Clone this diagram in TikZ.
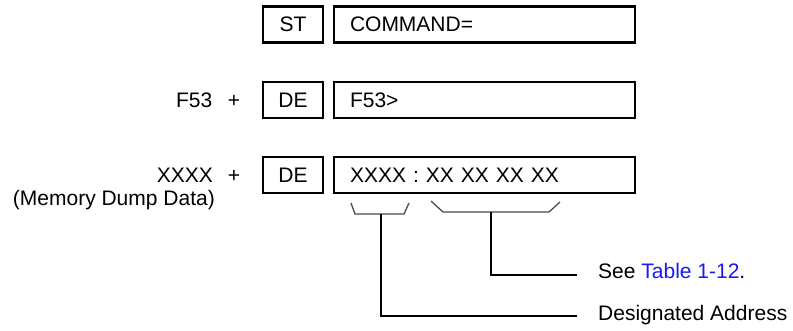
\documentclass[tikz,border=0pt]{standalone}
\usepackage{fontspec}
\setmainfont{Liberation Sans}
\definecolor{linkblue}{RGB}{25,25,235}
\begin{document}
\begin{tikzpicture}[x=1pt,y=-1pt,
  txt/.style={inner sep=0pt,font=\fontsize{21}{24}\selectfont},
  box/.style={draw,line width=2.6pt,minimum height=36pt,inner sep=0pt,font=\fontsize{21}{24}\selectfont},
  smallbox/.style={box,minimum width=60pt},
  widebox/.style={box,text width=269pt,align=left,inner xsep=16pt},
  brace/.style={line width=1.3pt,draw=black!70},
  lead/.style={line width=2pt}]
\useasboundingbox (0,0) rectangle (793,331);

% row 1
\node[smallbox] (st) at (293,24.5) {ST};
\node[widebox] (cmd) at (484.5,24.5) {COMMAND=};
% row 2
\node[txt,anchor=base east] (f53) at (212.5,107.5) {F53};
\node[txt,anchor=base] (plusa) at (234,107.5) {+};
\node[smallbox] (dea) at (293,100) {DE};
\node[widebox] (f53box) at (484.5,100) {F53>};
% row 3
\node[txt,anchor=base east] (xxxx) at (213,182.5) {XXXX};
\node[txt,anchor=base] (plusb) at (234,182.5) {+};
\node[txt,anchor=base east] (mem) at (215,206) {(Memory Dump Data)};
\node[smallbox] (deb) at (293,175) {DE};
\node[widebox] (dump) at (484.5,175) {XXXX : XX XX XX XX};

% braces
\coordinate (ma) at (381,214);
\coordinate (mb) at (491,212);
\draw[brace] (351,203) -- (355,214) -- (404,214) -- (409,203);
\draw[brace] (431,201) -- (443,212) -- (549,212) -- (560,202);

% labels
\node[txt,anchor=base west] (see) at (598,279) {See \textcolor{linkblue}{Table 1-12}.};
\node[txt,anchor=base west] (desig) at (598,320) {Designated Address};
\coordinate (seeend) at (577,275);
\coordinate (desend) at (577,316);

\draw[lead] (mb) |- (seeend);
\draw[lead] (ma) |- (desend);
\end{tikzpicture}
\end{document}
